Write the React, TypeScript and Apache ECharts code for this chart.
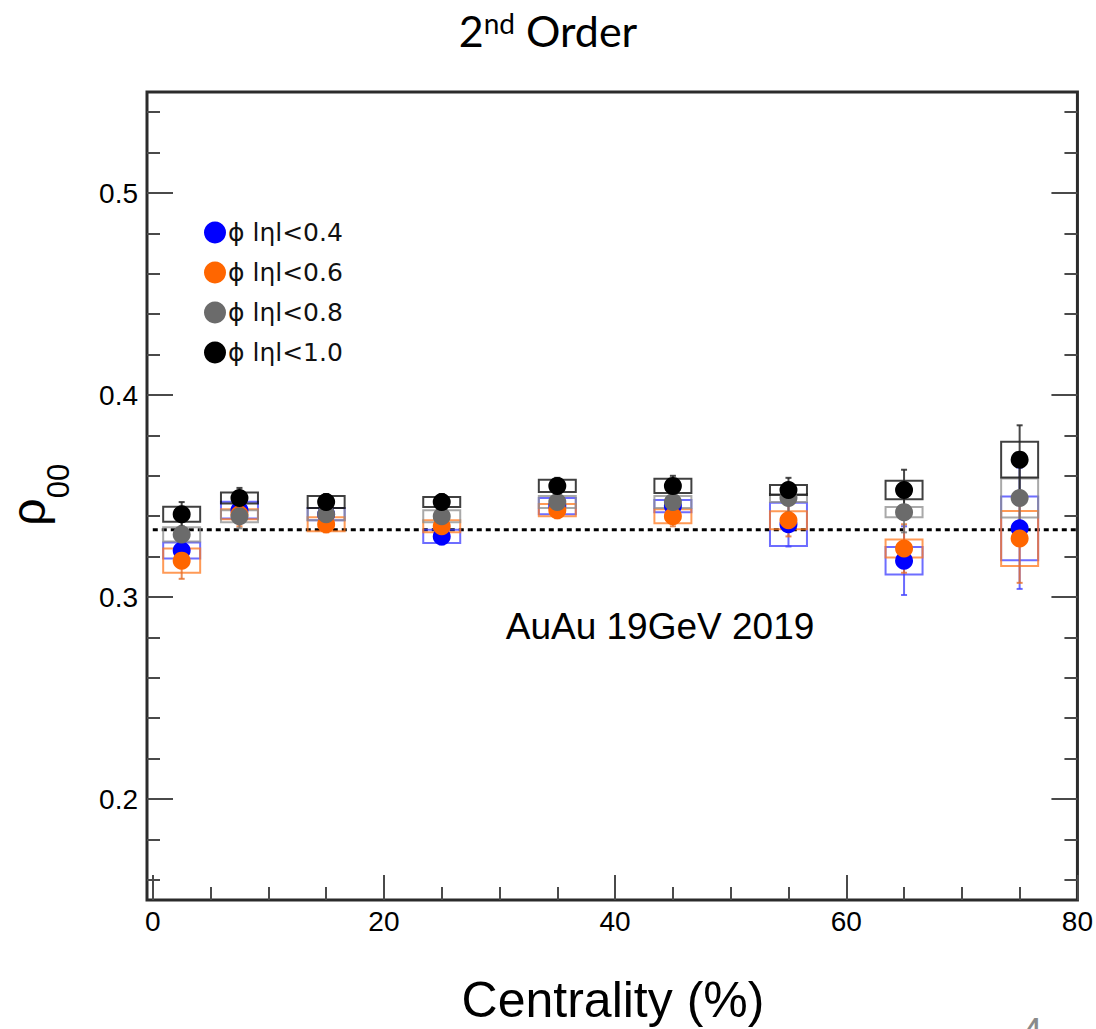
import React, { useEffect, useRef } from "react";
import * as echarts from "echarts";

// Centrality bin centres (%)
const centrality = [2.5, 7.5, 15, 25, 35, 45, 55, 65, 75];

const seriesNames = ["ϕ lηl<0.4", "ϕ lηl<0.6", "ϕ lηl<0.8", "ϕ lηl<1.0"];

// rho_00 values per eta window
const rhoEta04 = [0.323, 0.343, 0.341, 0.330, 0.345, 0.345, 0.336, 0.318, 0.334];
const rhoEta06 = [0.318, 0.341, 0.336, 0.335, 0.343, 0.340, 0.338, 0.324, 0.329];
const rhoEta08 = [0.331, 0.340, 0.341, 0.340, 0.347, 0.347, 0.349, 0.342, 0.349];
const rhoEta10 = [0.341, 0.349, 0.347, 0.347, 0.355, 0.355, 0.353, 0.353, 0.368];

// statistical uncertainties (error bars)
const statEta04 = [0.007, 0.005, 0.004, 0.004, 0.004, 0.005, 0.011, 0.017, 0.030];
const statEta06 = [0.009, 0.006, 0.004, 0.004, 0.004, 0.005, 0.008, 0.012, 0.022];
const statEta08 = [0.007, 0.006, 0.004, 0.004, 0.004, 0.005, 0.007, 0.010, 0.020];
const statEta10 = [0.006, 0.005, 0.004, 0.004, 0.004, 0.005, 0.006, 0.010, 0.017];

// systematic uncertainties (boxes)
const sysEta04 = [0.004, 0.0041, 0.003, 0.0033, 0.004, 0.003, 0.0107, 0.0068, 0.0158];
const sysEta06 = [0.006, 0.0025, 0.0035, 0.003, 0.003, 0.0035, 0.0045, 0.0045, 0.0136];
const sysEta08 = [0.0035, 0.003, 0.003, 0.003, 0.003, 0.003, 0.002, 0.0025, 0.0097];
const sysEta10 = [0.0037, 0.0027, 0.003, 0.0025, 0.003, 0.0035, 0.0025, 0.0046, 0.0088];

// axis ticks
const xMajorTicks = [0, 20, 40, 60, 80];
const xMinorTicks = [5, 10, 15, 25, 30, 35, 45, 50, 55, 65, 70, 75];
const yMajorTicks = [0.2, 0.3, 0.4, 0.5];
const yMinorTicks = [0.16, 0.18, 0.22, 0.24, 0.26, 0.28, 0.32, 0.34, 0.36, 0.38, 0.42, 0.44, 0.46, 0.48, 0.52, 0.54];

// unpolarised reference value
const unpolarizedRho = 1 / 3;

const markerColors = ["#0000ff", "#ff6600", "#6b6b6b", "#000000"];
const boxColors = ["rgba(60,60,255,0.75)", "rgba(255,120,30,0.75)", "rgba(140,140,140,0.75)", "rgba(0,0,0,0.75)"];
const barColors = ["rgba(70,70,255,0.8)", "rgba(230,110,40,0.8)", "rgba(110,110,110,0.8)", "rgba(40,40,40,0.85)"];

const boxHalfWidth = 1.6;
const FONT = '"Liberation Sans", Arial, sans-serif';

function buildRows(values: number[], stat: number[], sys: number[]) {
  return centrality.map((c, i) => [c, values[i], stat[i], sys[i]]);
}

function makeRenderItem(boxColor: string, barColor: string) {
  return (_params: any, api: any) => {
    const x = api.value(0);
    const y = api.value(1);
    const st = api.value(2);
    const sy = api.value(3);
    const a = api.coord([x - boxHalfWidth, y + sy]);
    const b = api.coord([x + boxHalfWidth, y - sy]);
    const t = api.coord([x, y + st]);
    const d = api.coord([x, y - st]);
    const cap = 3;
    return {
      type: "group",
      children: [
        {
          type: "rect",
          shape: { x: a[0], y: a[1], width: b[0] - a[0], height: b[1] - a[1] },
          style: { fill: "none", stroke: boxColor, lineWidth: 2 },
        },
        {
          type: "line",
          shape: { x1: t[0], y1: t[1], x2: d[0], y2: d[1] },
          style: { stroke: barColor, lineWidth: 2 },
        },
        {
          type: "line",
          shape: { x1: t[0] - cap, y1: t[1], x2: t[0] + cap, y2: t[1] },
          style: { stroke: barColor, lineWidth: 2 },
        },
        {
          type: "line",
          shape: { x1: d[0] - cap, y1: d[1], x2: d[0] + cap, y2: d[1] },
          style: { stroke: barColor, lineWidth: 2 },
        },
      ],
    };
  };
}

export default function App() {
  const ref = useRef<HTMLDivElement>(null);

  useEffect(() => {
    if (!ref.current) return;
    const chart = echarts.init(ref.current, null, { renderer: "svg" });

    const datasets = [
      buildRows(rhoEta04, statEta04, sysEta04),
      buildRows(rhoEta06, statEta06, sysEta06),
      buildRows(rhoEta08, statEta08, sysEta08),
      buildRows(rhoEta10, statEta10, sysEta10),
    ];

    const tickLine = { color: "#4a4a4a", width: 2 };

    const baseX = {
      type: "value",
      min: -0.5,
      max: 80,
      position: "bottom",
      axisLine: { show: false, onZero: false },
      splitLine: { show: false },
    };
    const baseY = {
      type: "value",
      min: 0.15,
      max: 0.55,
      offset: 0,
      axisLine: { show: false, onZero: false },
      splitLine: { show: false },
    };

    const uncertaintySeries = datasets.map((rows, i) => ({
      type: "custom",
      name: seriesNames[i] + " sys",
      xAxisIndex: 0,
      yAxisIndex: 0,
      z: 2,
      silent: true,
      encode: { x: 0, y: 1 },
      data: rows,
      renderItem: makeRenderItem(boxColors[i], barColors[i]),
    }));

    const markerSeries = datasets.map((rows, i) => ({
      type: "scatter",
      name: seriesNames[i],
      xAxisIndex: 0,
      yAxisIndex: 0,
      z: 5 + i,
      symbol: "circle",
      symbolSize: 18,
      itemStyle: { color: markerColors[i], opacity: 1 },
      data: rows.map((r) => [r[0], r[1]]),
    }));

    chart.setOption({
      animation: false,
      backgroundColor: "#ffffff",
      textStyle: { fontFamily: FONT },
      title: {
        text: "2{sup|nd} Order",
        left: "center",
        top: 4,
        textStyle: {
          fontFamily: "Lato, 'Open Sans', sans-serif",
          fontSize: 43,
          fontWeight: "normal",
          color: "#000",
          rich: {
            sup: {
              fontFamily: "Lato, 'Open Sans', sans-serif",
              fontSize: 28,
              verticalAlign: "top",
              color: "#000",
            },
          },
        },
      },
      grid: {
        left: 147,
        right: 16,
        top: 92,
        bottom: 129,
        show: true,
        borderColor: "#2b2b2b",
        borderWidth: 3,
        backgroundColor: "transparent",
      },
      legend: {
        data: seriesNames,
        orient: "vertical",
        left: 199,
        top: 215,
        icon: "circle",
        itemWidth: 22,
        itemHeight: 22,
        itemGap: 15,
        selectedMode: false,
        textStyle: {
          fontFamily: '"DejaVu Sans", sans-serif',
          fontSize: 25,
          lineHeight: 22,
          color: "#111",
          padding: [0, 0, 0, -3],
        },
      },
      xAxis: [
        {
          ...baseX,
          axisTick: { show: true, inside: true, length: 25, customValues: xMajorTicks, lineStyle: tickLine },
          axisLabel: { show: true, customValues: xMajorTicks, fontSize: 28, color: "#000", margin: 7, fontFamily: FONT },
        },
        {
          ...baseX,
          axisTick: { show: true, inside: true, length: 13, customValues: xMinorTicks, lineStyle: tickLine },
          axisLabel: { show: false },
        },
      ],
      yAxis: [
        {
          ...baseY,
          position: "left",
          axisTick: { show: true, inside: true, length: 26, customValues: yMajorTicks, lineStyle: tickLine },
          axisLabel: {
            show: true,
            customValues: yMajorTicks,
            formatter: (v: number) => v.toFixed(1),
            fontSize: 28,
            color: "#000",
            margin: 9,
            fontFamily: FONT,
          },
        },
        {
          ...baseY,
          position: "left",
          axisTick: { show: true, inside: true, length: 13, customValues: yMinorTicks, lineStyle: tickLine },
          axisLabel: { show: false },
        },
        {
          ...baseY,
          position: "right",
          axisTick: { show: true, inside: true, length: 26, customValues: yMajorTicks, lineStyle: tickLine },
          axisLabel: { show: false },
        },
        {
          ...baseY,
          position: "right",
          axisTick: { show: true, inside: true, length: 13, customValues: yMinorTicks, lineStyle: tickLine },
          axisLabel: { show: false },
        },
      ],
      graphic: [
        {
          type: "text",
          x: 28,
          y: 512,
          rotation: Math.PI / 2,
          style: { text: "ρ", font: `48px ${FONT}`, fill: "#000", align: "center", verticalAlign: "middle" },
        },
        {
          type: "text",
          x: 58,
          y: 481,
          rotation: Math.PI / 2,
          style: { text: "00", font: `31px ${FONT}`, fill: "#000", align: "center", verticalAlign: "middle" },
        },
        {
          type: "text",
          x: 613,
          y: 1000,
          style: { text: "Centrality (%)", font: `50px ${FONT}`, fill: "#000", align: "center", verticalAlign: "middle" },
        },
        {
          type: "text",
          x: 660,
          y: 626,
          style: { text: "AuAu 19GeV 2019", font: `37px ${FONT}`, fill: "#000", align: "center", verticalAlign: "middle" },
        },
        {
          type: "text",
          x: 1032,
          y: 1013,
          style: { text: "4", font: `38px ${FONT}`, fill: "#8a8a8a", align: "center", verticalAlign: "top" },
        },
      ],
      series: [
        {
          type: "line",
          name: "unpolarized",
          xAxisIndex: 0,
          yAxisIndex: 0,
          z: 1,
          symbol: "none",
          silent: true,
          lineStyle: { color: "#000", width: 3, type: [5, 4] },
          data: [
            [0, unpolarizedRho],
            [80, unpolarizedRho],
          ],
        },
        ...uncertaintySeries,
        ...markerSeries,
      ],
    });

    return () => chart.dispose();
  }, []);

  return (
    <div
      ref={ref}
      style={{ position: "absolute", left: 0, top: 0, width: 1096, height: 1029 }}
    />
  );
}
